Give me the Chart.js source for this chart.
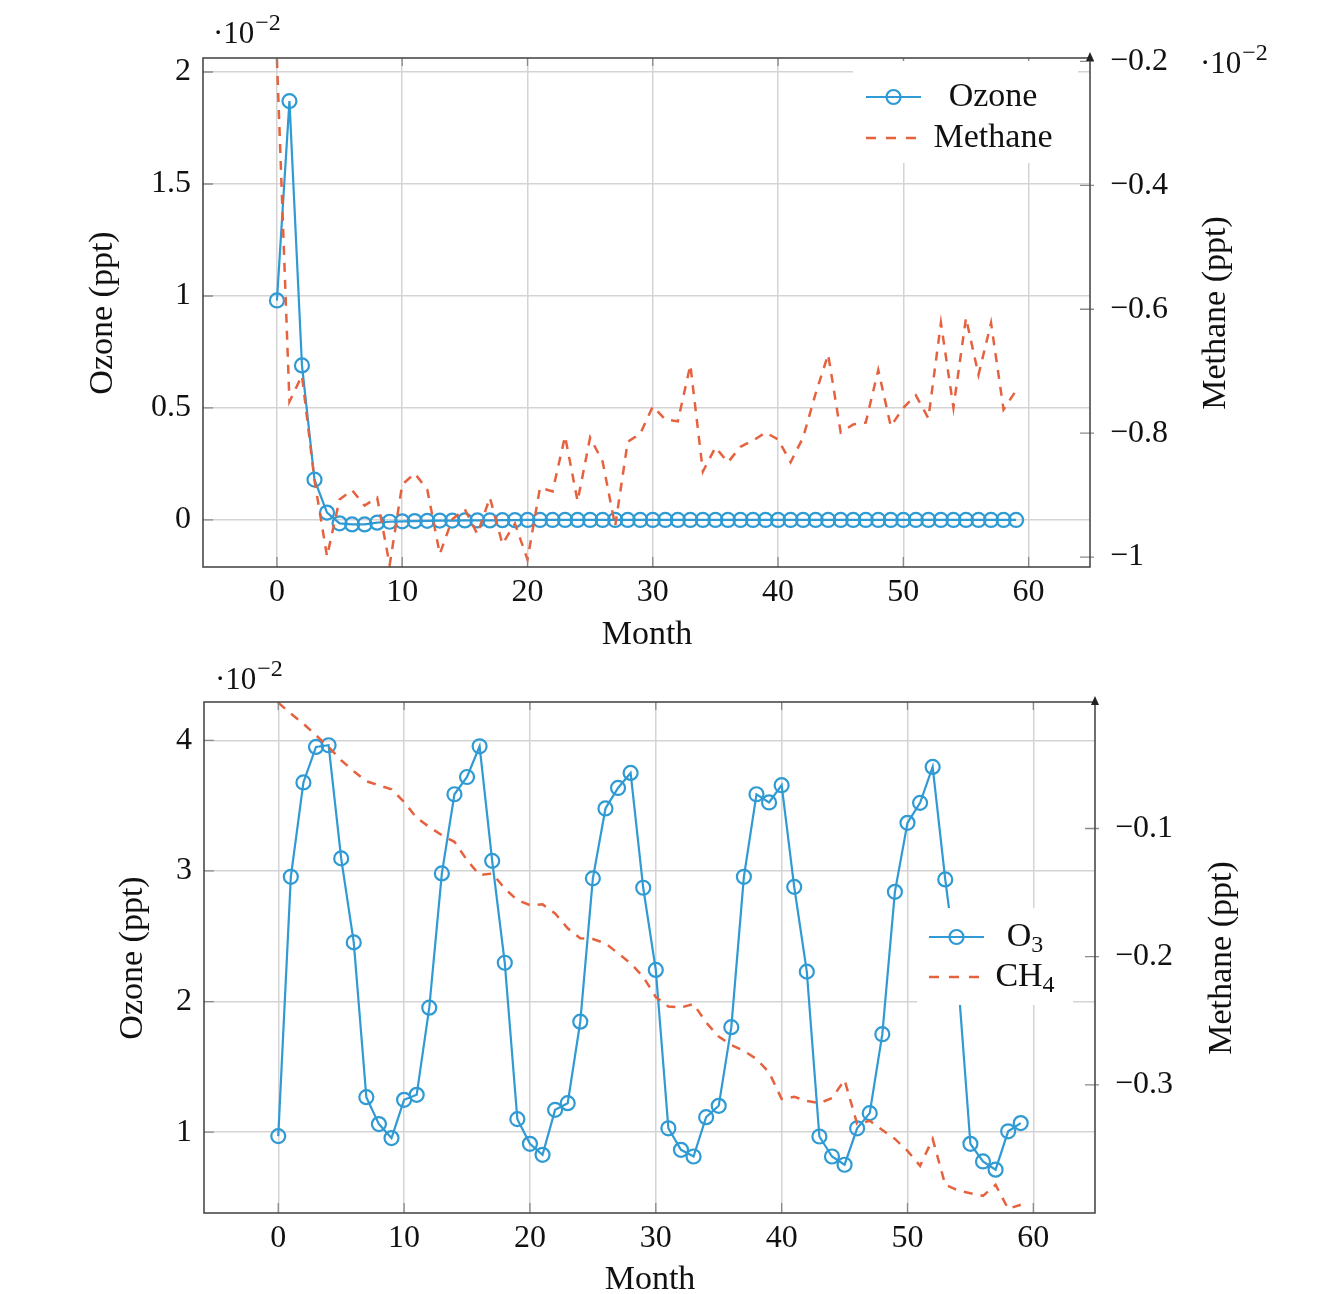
<!DOCTYPE html>
<html>
<head>
<meta charset="utf-8">
<script src="https://cdn.jsdelivr.net/npm/chart.js@4.4.0/dist/chart.umd.min.js"></script>
<style>
    html, body { margin: 0; padding: 0; background: #fff; }
    .panel { position: absolute; left: 0; width: 1339px; height: 647px; }
    #panelTop { top: 0; }
    #panelBottom { top: 647px; }
</style>
</head>
<body>
<div class="panel" id="panelTop"><canvas id="chartTop"></canvas></div>
<div class="panel" id="panelBottom"><canvas id="chartBottom"></canvas></div>
<script>
// ---- data (values in the units shown on the axes, i.e. x 10^-2) ----
const months = [0, 1, 2, 3, 4, 5, 6, 7, 8, 9, 10, 11, 12, 13, 14, 15, 16, 17, 18, 19,
    20, 21, 22, 23, 24, 25, 26, 27, 28, 29, 30, 31, 32, 33, 34, 35, 36, 37, 38, 39,
    40, 41, 42, 43, 44, 45, 46, 47, 48, 49, 50, 51, 52, 53, 54, 55, 56, 57, 58, 59];

const monthTicks = [0, 10, 20, 30, 40, 50, 60];

const ozoneTopTicks = [0, 0.5, 1, 1.5, 2];
const methaneTopTicks = [-1, -0.8, -0.6, -0.4, -0.2];
const ozoneBottomTicks = [1, 2, 3, 4];
const methaneBottomTicks = [-0.3, -0.2, -0.1];

const ozoneTop = [0.98, 1.87, 0.69, 0.18, 0.033, -0.015, -0.02, -0.02, -0.012, -0.008,
    -0.006, -0.005, -0.004, -0.003, -0.003, -0.002, -0.002, -0.002, -0.001, -0.001,
    0, 0, 0, 0, 0, 0, 0, 0, 0, 0, 0, 0, 0, 0, 0, 0, 0, 0, 0, 0,
    0, 0, 0, 0, 0, 0, 0, 0, 0, 0, 0, 0, 0, 0, 0, 0, 0, 0, 0, 0];

const methaneTop = [-0.196, -0.749, -0.707, -0.876, -0.999, -0.907, -0.892, -0.917, -0.904, -1.013,
    -0.883, -0.865, -0.891, -0.995, -0.939, -0.923, -0.963, -0.904, -0.979, -0.946,
    -1.004, -0.888, -0.894, -0.805, -0.910, -0.807, -0.846, -0.950, -0.814, -0.801,
    -0.757, -0.778, -0.781, -0.690, -0.862, -0.823, -0.847, -0.822, -0.812, -0.799,
    -0.810, -0.847, -0.807, -0.736, -0.673, -0.799, -0.786, -0.783, -0.698, -0.789,
    -0.759, -0.739, -0.776, -0.622, -0.759, -0.614, -0.706, -0.622, -0.762, -0.731];

const ozoneBottom = [0.97, 2.955, 3.677, 3.949, 3.962, 3.096, 2.453, 1.268, 1.062, 0.955,
    1.248, 1.286, 1.953, 2.981, 3.587, 3.719, 3.954, 3.077, 2.297, 1.10,
    0.911, 0.827, 1.171, 1.222, 1.846, 2.943, 3.478, 3.635, 3.750, 2.871,
    2.242, 1.03, 0.865, 0.814, 1.115, 1.202, 1.804, 2.955, 3.587, 3.524,
    3.656, 2.878, 2.229, 0.967, 0.814, 0.751, 1.03, 1.146, 1.75, 2.84,
    3.368, 3.521, 3.796, 2.935, 2.19, 0.911, 0.776, 0.713, 1.007, 1.07];

const methaneBottom = [-0.0018, -0.0104, -0.0182, -0.0273, -0.0364, -0.0468, -0.0553, -0.0631, -0.0663, -0.0694,
    -0.0793, -0.0917, -0.0988, -0.1052, -0.1104, -0.1247, -0.1364, -0.1351, -0.1468, -0.1559,
    -0.1598, -0.1592, -0.1663, -0.1779, -0.1857, -0.1863, -0.1896, -0.1974, -0.2052, -0.2157,
    -0.2315, -0.2389, -0.2397, -0.2369, -0.2514, -0.2623, -0.2689, -0.2736, -0.2798, -0.2903,
    -0.3110, -0.3094, -0.3125, -0.3143, -0.3104, -0.2962, -0.3305, -0.3281, -0.3352, -0.3422,
    -0.3515, -0.3632, -0.3422, -0.3780, -0.3823, -0.3846, -0.3866, -0.3780, -0.3967, -0.3936];

// ---- style ----
const SERIF = "'Liberation Serif', 'Times New Roman', serif";
const BLUE = '#2f9ad3';
const RED = '#e6623f';
const TEXT = '#111';
const GRID = '#d4d4d4';
const W = 1339, H = 647;

Chart.defaults.font.family = SERIF;

function toPoints(xs, ys) {
    return xs.map((x, i) => ({ x: x, y: ys[i] }));
}

// minus sign like LaTeX
function fmt(v) {
    const n = Math.round(v * 1000) / 1000;
    return (n < 0 ? '\u2212' : '') + Math.abs(n);
}

function fixedTicks(list) {
    return function (scale) {
        scale.ticks = list.map(v => ({ value: v }));
    };
}

function drawRotated(ctx, text, x, y) {
    ctx.save();
    ctx.translate(x, y);
    ctx.rotate(-Math.PI / 2);
    ctx.fillText(text, 0, 0);
    ctx.restore();
}

function drawExponent(ctx, x, base) {
    ctx.textAlign = 'left';
    ctx.textBaseline = 'alphabetic';
    ctx.font = '31px ' + SERIF;
    ctx.fillText('\u00b710', x, base);
    const w = ctx.measureText('\u00b710').width;
    ctx.font = '24px ' + SERIF;
    ctx.fillText('\u22122', x + w + 1, base - 13);
}

function drawLabel(ctx, main, sub, cx, cy) {
    ctx.textBaseline = 'middle';
    ctx.textAlign = 'left';
    ctx.font = '34px ' + SERIF;
    const wm = ctx.measureText(main).width;
    ctx.font = '24px ' + SERIF;
    const ws = sub ? ctx.measureText(sub).width : 0;
    const x0 = cx - (wm + ws) / 2;
    ctx.font = '34px ' + SERIF;
    ctx.fillText(main, x0, cy);
    if (sub) {
        ctx.font = '24px ' + SERIF;
        ctx.fillText(sub, x0 + wm, cy + 9);
    }
}

// frame, inward tick marks, axis arrow, legend and axis titles
function makeDecor(p) {
    return {
        id: 'decor',
        afterDatasetsDraw(chart) {
            const ctx = chart.ctx;
            const a = chart.chartArea;
            const sx = chart.scales.x, sy = chart.scales.y, sy1 = chart.scales.y1;

            ctx.save();

            ctx.strokeStyle = '#8a8a8a';
            ctx.lineWidth = 1.3;
            ctx.beginPath();
            sx.ticks.forEach(t => {
                const px = sx.getPixelForValue(t.value);
                ctx.moveTo(px, a.bottom); ctx.lineTo(px, a.bottom - 10);
                ctx.moveTo(px, a.top); ctx.lineTo(px, a.top + 8);
            });
            sy.ticks.forEach(t => {
                const py = sy.getPixelForValue(t.value);
                ctx.moveTo(a.left, py); ctx.lineTo(a.left + 10, py);
            });
            sy1.ticks.forEach(t => {
                const py = sy1.getPixelForValue(t.value);
                ctx.moveTo(a.right - 10, py); ctx.lineTo(a.right + 4, py);
            });
            ctx.stroke();

            // legend box hides what is under it
            const L = p.legend;
            ctx.fillStyle = '#fff';
            ctx.fillRect(L.x, L.y, L.w, L.h);

            const mid = (L.sx0 + L.sx1) / 2;
            ctx.setLineDash([]);
            ctx.strokeStyle = BLUE;
            ctx.lineWidth = 2.2;
            ctx.beginPath();
            ctx.moveTo(L.sx0, L.y1); ctx.lineTo(L.sx1, L.y1);
            ctx.stroke();
            ctx.beginPath();
            ctx.arc(mid, L.y1, 7, 0, Math.PI * 2);
            ctx.stroke();

            ctx.setLineDash([10, 10]);
            ctx.strokeStyle = RED;
            ctx.lineWidth = 2.5;
            ctx.beginPath();
            ctx.moveTo(L.sx0, L.y2); ctx.lineTo(L.sx1 - 5, L.y2);
            ctx.stroke();
            ctx.setLineDash([]);

            ctx.fillStyle = TEXT;
            drawLabel(ctx, L.names[0][0], L.names[0][1], L.tx, L.y1);
            drawLabel(ctx, L.names[1][0], L.names[1][1], L.tx, L.y2);

            // frame
            ctx.strokeStyle = '#4a4a4a';
            ctx.lineWidth = 1.6;
            ctx.strokeRect(a.left, a.top, a.right - a.left, a.bottom - a.top);

            // arrow head on the right axis
            ctx.fillStyle = '#222';
            ctx.beginPath();
            ctx.moveTo(a.right, a.top - 6);
            ctx.lineTo(a.right - 4, a.top + 3);
            ctx.lineTo(a.right + 4, a.top + 3);
            ctx.closePath();
            ctx.fill();

            // axis titles
            ctx.fillStyle = TEXT;
            ctx.font = '34px ' + SERIF;
            ctx.textAlign = 'center';
            ctx.textBaseline = 'middle';
            ctx.fillText('Month', p.titles.month[0], p.titles.month[1]);
            drawRotated(ctx, 'Ozone (ppt)', p.titles.left[0], p.titles.left[1]);
            drawRotated(ctx, 'Methane (ppt)', p.titles.right[0], p.titles.right[1]);

            p.exponents.forEach(e => drawExponent(ctx, e[0], e[1]));

            ctx.restore();
        }
    };
}

function makeChart(id, p) {
    const canvas = document.getElementById(id);
    const tickFont = { family: SERIF, size: 32 };

    return new Chart(canvas, {
        type: 'line',
        data: {
            datasets: [
                {
                    label: 'Ozone',
                    data: toPoints(months, p.ozone),
                    yAxisID: 'y',
                    order: 1,
                    borderColor: BLUE,
                    borderWidth: 2.2,
                    pointRadius: 7,
                    pointBorderWidth: 2.2,
                    pointBorderColor: BLUE,
                    pointBackgroundColor: 'rgba(0,0,0,0)',
                    tension: 0
                },
                {
                    label: 'Methane',
                    data: toPoints(months, p.methane),
                    yAxisID: 'y1',
                    order: 0,
                    borderColor: RED,
                    borderWidth: 2.5,
                    borderDash: [9, 8],
                    pointRadius: 0,
                    tension: 0
                }
            ]
        },
        options: {
            responsive: true,
            maintainAspectRatio: false,
            animation: false,
            events: [],
            layout: { padding: { top: p.area.top, left: 0, right: 0, bottom: 0 } },
            plugins: {
                legend: { display: false },
                tooltip: { enabled: false }
            },
            scales: {
                x: {
                    type: 'linear',
                    min: -5.9,
                    max: 64.9,
                    afterBuildTicks: fixedTicks(monthTicks),
                    afterFit: s => { s.height = H - p.area.bottom; },
                    grid: { color: GRID, lineWidth: 1.5, drawTicks: false },
                    border: { display: false },
                    ticks: { font: tickFont, color: TEXT, padding: 6, maxRotation: 0, callback: v => fmt(v) }
                },
                y: {
                    position: 'left',
                    min: p.yRange[0],
                    max: p.yRange[1],
                    afterBuildTicks: fixedTicks(p.yTicks),
                    afterFit: s => { s.width = p.area.left; },
                    grid: { color: GRID, lineWidth: 1.5, drawTicks: false },
                    border: { display: false },
                    ticks: { font: tickFont, color: TEXT, padding: 12, callback: v => fmt(v) }
                },
                y1: {
                    position: 'right',
                    min: p.y1Range[0],
                    max: p.y1Range[1],
                    afterBuildTicks: fixedTicks(p.y1Ticks),
                    afterFit: s => { s.width = W - p.area.right; },
                    grid: { display: false, drawTicks: false },
                    border: { display: false },
                    ticks: { font: tickFont, color: TEXT, padding: 20, callback: v => fmt(v) }
                }
            }
        },
        plugins: [makeDecor(p)]
    });
}

makeChart('chartTop', {
    area: { left: 203, right: 1090, top: 58, bottom: 567 },
    ozone: ozoneTop,
    methane: methaneTop,
    yRange: [-0.21, 2.0625],
    y1Range: [-1.0161, -0.1944],
    yTicks: ozoneTopTicks,
    y1Ticks: methaneTopTicks,
    legend: {
        x: 853, y: 61, w: 225, h: 102,
        sx0: 866, sx1: 921, y1: 97, y2: 138, tx: 993,
        names: [['Ozone', ''], ['Methane', '']]
    },
    titles: { month: [647, 635], left: [103, 313], right: [1216, 313] },
    exponents: [[213, 43], [1200, 73]]
});

makeChart('chartBottom', {
    area: { left: 204, right: 1095, top: 55, bottom: 566 },
    ozone: ozoneBottom,
    methane: methaneBottom,
    yRange: [0.3815, 4.293],
    y1Range: [-0.4, -0.0013],
    yTicks: ozoneBottomTicks,
    y1Ticks: methaneBottomTicks,
    legend: {
        x: 917, y: 261, w: 156, h: 97,
        sx0: 929, sx1: 984, y1: 290, y2: 330, tx: 1025,
        names: [['O', '3'], ['CH', '4']]
    },
    titles: { month: [650, 633], left: [133, 311], right: [1222, 311] },
    exponents: [[215, 42]]
});
</script>
</body>
</html>
